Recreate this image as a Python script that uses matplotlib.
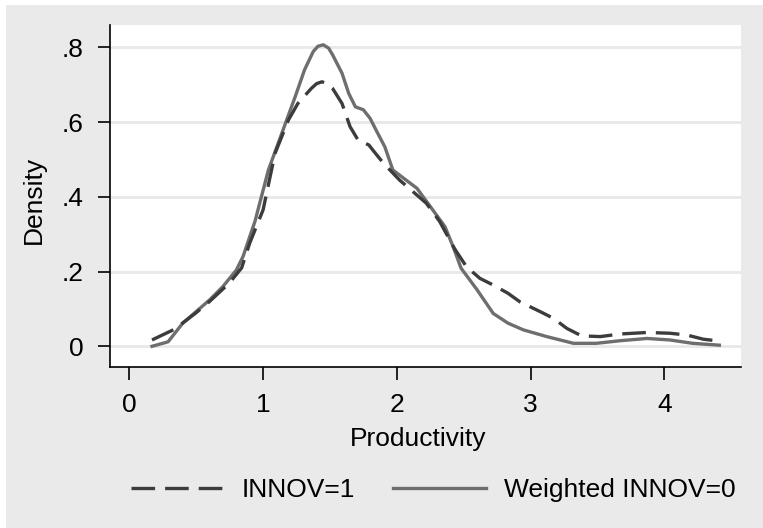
import matplotlib
matplotlib.use("Agg")
import matplotlib.pyplot as plt
from matplotlib.patches import Rectangle

plt.rcParams['font.family'] = ['Liberation Sans', 'DejaVu Sans']
plt.rcParams['lines.scale_dashes'] = False

# INNOV=1 (dashed)
innov1_x = [0.17, 0.34, 0.50, 0.60, 0.75, 0.84, 0.90, 1.00, 1.09, 1.19, 1.26, 1.36, 1.40,
            1.44, 1.48, 1.52, 1.59, 1.65, 1.71, 1.79, 1.85, 1.90, 2.02, 2.12, 2.22, 2.32,
            2.43, 2.52, 2.62, 2.72, 2.83, 2.92, 3.07, 3.17, 3.27, 3.38, 3.52, 3.67, 3.87,
            4.04, 4.17, 4.29, 4.41]
innov1_y = [0.017, 0.046, 0.090, 0.120, 0.170, 0.210, 0.276, 0.365, 0.517, 0.606, 0.650,
            0.690, 0.703, 0.708, 0.703, 0.690, 0.650, 0.588, 0.552, 0.539, 0.512, 0.490,
            0.445, 0.414, 0.383, 0.334, 0.262, 0.213, 0.182, 0.164, 0.142, 0.119, 0.093,
            0.075, 0.048, 0.028, 0.026, 0.033, 0.037, 0.035, 0.030, 0.019, 0.014]

# Weighted INNOV=0 (solid)
innov0_x = [0.17, 0.29, 0.40, 0.50, 0.60, 0.70, 0.80, 0.85, 0.90, 0.94, 0.98, 1.04, 1.14,
            1.24, 1.31, 1.375, 1.41, 1.45, 1.49, 1.52, 1.59, 1.64, 1.69, 1.75, 1.80, 1.85,
            1.91, 1.97, 2.05, 2.15, 2.25, 2.36, 2.42, 2.48, 2.60, 2.72, 2.83, 2.945, 3.12,
            3.32, 3.49, 3.67, 3.87, 4.04, 4.21, 4.41]
innov0_y = [0.000, 0.012, 0.062, 0.093, 0.124, 0.160, 0.204, 0.240, 0.293, 0.335, 0.390,
            0.472, 0.570, 0.668, 0.740, 0.789, 0.803, 0.807, 0.798, 0.780, 0.731, 0.677,
            0.641, 0.633, 0.610, 0.575, 0.534, 0.472, 0.450, 0.423, 0.374, 0.320, 0.267,
            0.209, 0.151, 0.088, 0.062, 0.044, 0.026, 0.008, 0.008, 0.015, 0.021, 0.017,
            0.008, 0.003]

x_ticks = [0, 1, 2, 3, 4]
y_ticks = [0, 0.2, 0.4, 0.6, 0.8]
y_tick_labels = ['0', '.2', '.4', '.6', '.8']

W, H = 763, 528
fig = plt.figure(figsize=(W / 100, H / 100), dpi=100, facecolor='white')
fig.patches.append(Rectangle((6 / W, 0), 1, 1 - 5 / H, transform=fig.transFigure,
                             facecolor='#eaeaea', edgecolor='none', zorder=-10))

ax = fig.add_axes([110 / W, 1 - 367 / H, (741 - 110) / W, (367 - 25) / H])
ax.set_facecolor('white')

ax.plot(innov1_x, innov1_y, color='#3c3c3c', lw=2.4, dashes=(17, 7.2),
        dash_capstyle='butt', label='INNOV=1', zorder=3)
ax.plot(innov0_x, innov0_y, color='#6e6e6e', lw=2.4, label='Weighted INNOV=0', zorder=2)

ax.set_xlim(-0.144, 4.572)
ax.set_ylim(-0.0554, 0.860)
ax.set_xticks(x_ticks)
ax.set_yticks(y_ticks)
ax.set_yticklabels(y_tick_labels)
ax.grid(axis='y', color='#e8e8e8', lw=2)
ax.set_axisbelow(True)

for s in ['top', 'right']:
    ax.spines[s].set_visible(False)
for s in ['left', 'bottom']:
    ax.spines[s].set_linewidth(1.2)
ax.tick_params(direction='out', length=9, width=1.2, labelsize=19)
ax.tick_params(axis='x', pad=10)
ax.tick_params(axis='y', pad=10)

fig.text(34 / W, 1 - 200 / H, 'Density', rotation=90, ha='center', va='center', fontsize=19)
fig.text(418 / W, 1 - 446 / H, 'Productivity', ha='center', va='baseline', fontsize=19)

fig.legend(loc='center left', bbox_to_anchor=(131 / W, 1 - 490 / H), ncol=2, frameon=False,
           fontsize=19, handlelength=3.5, handletextpad=0.7, columnspacing=1.45,
           borderpad=0, borderaxespad=0)

fig.savefig('out.png', dpi=100)
